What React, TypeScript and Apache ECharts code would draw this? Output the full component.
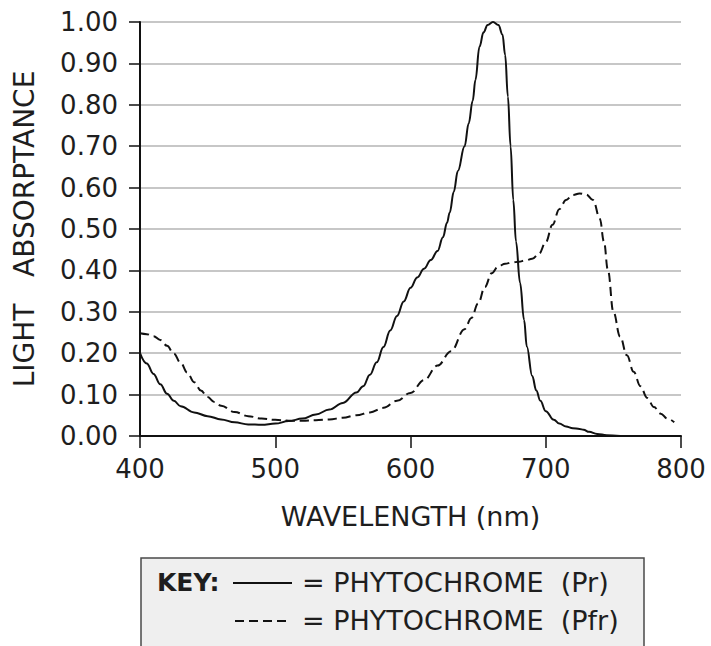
import React, { useEffect, useRef } from "react";
import * as echarts from "echarts";

const xTicks = [400, 500, 600, 700, 800];
const yTicks = [0, 0.1, 0.2, 0.3, 0.4, 0.5, 0.6, 0.7, 0.8, 0.9, 1.0];

const prWavelength = [
  400, 405, 410, 415, 420, 425, 430, 440, 450, 460, 470, 480, 490, 500, 510, 520, 530, 540, 550, 560,
  565, 570, 575, 580, 585, 590, 595, 600, 605, 610, 615, 620, 624, 627, 629, 632, 635, 640, 643, 646,
  648, 651, 654, 657, 661, 665, 668, 670, 672, 674, 676, 678, 681, 684, 686, 690, 693, 696, 700, 706,
  710, 715, 720, 725, 728, 732, 738, 745, 755,
];
const prAbsorptance = [
  0.2, 0.175, 0.15, 0.125, 0.102, 0.085, 0.072, 0.057, 0.048, 0.04, 0.033, 0.028, 0.027, 0.03, 0.036, 0.042, 0.052, 0.064, 0.08, 0.105,
  0.12, 0.148, 0.178, 0.215, 0.255, 0.29, 0.325, 0.358, 0.383, 0.404, 0.425, 0.447, 0.48, 0.515, 0.54, 0.59, 0.64, 0.7, 0.755, 0.81,
  0.86, 0.94, 0.975, 0.993, 1.0, 0.993, 0.97, 0.92, 0.82, 0.7, 0.57, 0.47, 0.37, 0.28, 0.216, 0.145, 0.11, 0.085, 0.06, 0.039,
  0.03, 0.023, 0.019, 0.017, 0.015, 0.01, 0.005, 0.002, 0.0,
];

const pfrWavelength = [
  400, 405, 410, 415, 420, 425, 430, 435, 440, 445, 450, 455, 460, 470, 480, 490, 500, 510, 520, 530, 540,
  550, 560, 570, 580, 590, 600, 610, 620, 630, 640, 645, 650, 655, 660, 665, 670, 675, 680, 685, 690,
  695, 700, 705, 710, 715, 720, 725, 730, 735, 740, 743, 746, 750, 755, 760, 765, 770, 775, 780, 785,
  790, 795,
];
const pfrAbsorptance = [
  0.248, 0.246, 0.241, 0.232, 0.218, 0.199, 0.177, 0.153, 0.13, 0.11, 0.094, 0.082, 0.073, 0.058, 0.048, 0.042, 0.039, 0.037, 0.037, 0.038, 0.04,
  0.044, 0.05, 0.057, 0.068, 0.085, 0.104, 0.135, 0.17, 0.205, 0.258, 0.285, 0.32, 0.36, 0.393, 0.41, 0.416, 0.419, 0.421, 0.424, 0.428,
  0.44, 0.468, 0.51, 0.548, 0.57, 0.582, 0.586, 0.583, 0.57, 0.525, 0.47, 0.4, 0.3, 0.24, 0.195, 0.155, 0.12, 0.092, 0.07, 0.054,
  0.042, 0.033,
];

const seriesNames = ["PHYTOCHROME  (Pr)", "PHYTOCHROME  (Pfr)"];

const FONT = "DejaVu Sans";
const TEXT = "#1e1e1e";

export default function App() {
  const ref = useRef<HTMLDivElement>(null);
  useEffect(() => {
    if (!ref.current) return;
    const chart = echarts.init(ref.current, undefined, { renderer: "svg" });
    const pr = prWavelength.map((w, i) => [w, prAbsorptance[i]]);
    const pfr = pfrWavelength.map((w, i) => [w, pfrAbsorptance[i]]);
    chart.setOption({
      animation: false,
      backgroundColor: "#ffffff",
      textStyle: { fontFamily: FONT },
      grid: { left: 140, right: 30, top: 22, bottom: 210, containLabel: false },
      xAxis: {
        type: "value",
        min: xTicks[0],
        max: xTicks[xTicks.length - 1],
        interval: 100,
        name: "WAVELENGTH (nm)",
        nameLocation: "middle",
        nameGap: 67,
        nameTextStyle: { fontSize: 27, color: TEXT, fontFamily: FONT },
        axisLine: { show: true, onZero: false, lineStyle: { color: "#111", width: 2 } },
        axisTick: { show: true, length: 12, lineStyle: { color: "#111", width: 1.5 } },
        axisLabel: { fontSize: 26, color: TEXT, margin: 20, fontFamily: FONT },
        splitLine: { show: false },
      },
      yAxis: {
        type: "value",
        min: yTicks[0],
        max: yTicks[yTicks.length - 1],
        interval: 0.1,
        name: "LIGHT   ABSORPTANCE",
        nameLocation: "middle",
        nameGap: 102,
        nameRotate: 90,
        nameTextStyle: { fontSize: 28, color: TEXT, fontFamily: FONT },
        axisLine: { show: true, onZero: false, lineStyle: { color: "#111", width: 2 } },
        axisTick: { show: true, length: 11, lineStyle: { color: "#111", width: 1.5 } },
        axisLabel: {
          fontSize: 26,
          color: TEXT,
          margin: 22,
          fontFamily: FONT,
          formatter: (v: number) => v.toFixed(2),
        },
        splitLine: { show: true, lineStyle: { color: "#b4b4b4", width: 1.5 } },
      },
      series: [
        {
          name: seriesNames[0],
          type: "line",
          data: pr,
          showSymbol: false,
          smooth: 0.4,
          smoothMonotone: "x",
          lineStyle: { color: "#111", width: 2 },
          z: 3,
        },
        {
          name: seriesNames[1],
          type: "line",
          data: pfr,
          showSymbol: false,
          smooth: 0.4,
          smoothMonotone: "x",
          lineStyle: { color: "#111", width: 2, type: [9, 5] },
          z: 3,
        },
      ],
      graphic: [
        {
          type: "rect",
          shape: { x: 141, y: 558, width: 503, height: 110 },
          style: { fill: "#efefef", stroke: "#4a4a4a", lineWidth: 1.5 },
          z: 10,
        },
        {
          type: "text",
          x: 157,
          y: 582,
          style: { text: "KEY:", fontSize: 25, fontWeight: "bold", fontFamily: FONT, fill: TEXT, verticalAlign: "middle" },
          z: 11,
        },
        {
          type: "line",
          shape: { x1: 233, y1: 583, x2: 292, y2: 583 },
          style: { stroke: "#111", lineWidth: 2 },
          z: 11,
        },
        {
          type: "text",
          x: 302,
          y: 582,
          style: { text: "= " + seriesNames[0], fontSize: 27, fontFamily: FONT, fill: TEXT, verticalAlign: "middle" },
          z: 11,
        },
        {
          type: "line",
          shape: { x1: 235, y1: 621, x2: 290, y2: 621 },
          style: { stroke: "#111", lineWidth: 2, lineDash: [9, 5] },
          z: 11,
        },
        {
          type: "text",
          x: 302,
          y: 620,
          style: { text: "= " + seriesNames[1], fontSize: 27, fontFamily: FONT, fill: TEXT, verticalAlign: "middle" },
          z: 11,
        },
      ],
    });
    return () => chart.dispose();
  }, []);
  return <div ref={ref} style={{ position: "fixed", left: 0, top: 0, width: 711, height: 646 }} />;
}
